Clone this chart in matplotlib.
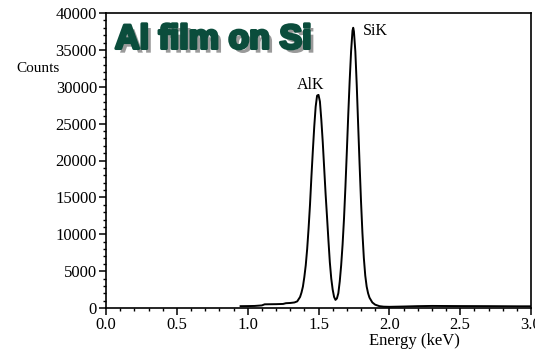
import matplotlib
matplotlib.use("Agg")
import matplotlib.pyplot as plt
import matplotlib.patheffects as pe
from matplotlib.ticker import MultipleLocator

energy_kev = [0.95, 1.00, 1.05, 1.10, 1.12, 1.20, 1.25, 1.27, 1.30, 1.33, 1.35, 1.37, 1.38,
              1.39, 1.40, 1.41, 1.42, 1.43, 1.44, 1.45, 1.46, 1.47, 1.48, 1.49, 1.50,
              1.51, 1.52, 1.53, 1.54, 1.55, 1.56, 1.57, 1.58, 1.59, 1.60, 1.61, 1.62,
              1.63, 1.64, 1.65, 1.66, 1.67, 1.68, 1.69, 1.70, 1.71, 1.72, 1.73, 1.74,
              1.745, 1.75, 1.76, 1.77, 1.78, 1.79, 1.80, 1.81, 1.82, 1.83, 1.84, 1.85,
              1.86, 1.88, 1.90, 1.93, 1.96, 2.00, 2.10, 2.20, 2.30, 2.50, 2.70, 2.90, 3.00]
counts = [250, 260, 280, 350, 500, 520, 550, 650, 680, 750, 900, 1500, 2100,
          2900, 4200, 5800, 8000, 10800, 14000, 17800, 21300, 24600, 27300, 28800, 28900,
          28000, 25500, 22500, 19000, 15500, 12400, 9200, 6200, 4000, 2500, 1500, 1100,
          1300, 2000, 3600, 5800, 8600, 12100, 16400, 21200, 26200, 30800, 34800, 37600,
          38000, 37500, 34800, 30200, 24800, 19500, 14500, 10200, 6800, 4400, 2900, 2000,
          1400, 750, 450, 250, 180, 160, 200, 250, 280, 260, 250, 230, 230]

peak_labels = ["AlK", "SiK"]
peak_label_pos = [(1.447, 30300), (1.815, 37600)]
title_text = "Al film on Si"

serif = ["Liberation Serif", "DejaVu Serif"]

fig = plt.figure(figsize=(5.35, 3.56), dpi=100)
ax = fig.add_axes([106/535, 1 - 308/356, 425/535, 295/356])

ax.plot(energy_kev, counts, color="black", lw=1.4)
ax.set_xlim(0, 3.0)
ax.set_ylim(0, 40000)

ax.xaxis.set_major_locator(MultipleLocator(0.5))
ax.xaxis.set_minor_locator(MultipleLocator(0.1))
ax.yaxis.set_major_locator(MultipleLocator(5000))
ax.yaxis.set_minor_locator(MultipleLocator(1000))
ax.xaxis.set_major_formatter(matplotlib.ticker.FormatStrFormatter("%.1f"))
ax.tick_params(which="major", length=5, width=1.1, direction="out", pad=1.5)
ax.tick_params(which="minor", length=2.5, width=1.0, direction="out")
for lbl in ax.get_xticklabels() + ax.get_yticklabels():
    lbl.set_fontfamily(serif)
    lbl.set_fontsize(12)
for s in ax.spines.values():
    s.set_linewidth(1.2)

ax.set_xlabel("Energy (keV)", fontfamily=serif, fontsize=12, labelpad=-2)
ax.xaxis.set_label_coords(0.725, -0.085)

fig.text(38/535, 1 - 68/356, "Counts", fontfamily=serif, fontsize=11,
         ha="center", va="center")

for txt, (x, y) in zip(peak_labels, peak_label_pos):
    ax.text(x, y, txt, fontfamily=serif, fontsize=11.5, ha="center" if txt == "AlK" else "left",
            va="center")

t = fig.text(115/535, 1 - 40/356, title_text, fontfamily=["Liberation Sans", "DejaVu Sans"],
             fontweight="bold", fontsize=24.5, color="#0b4d3c", ha="left", va="center",
             path_effects=[pe.withSimplePatchShadow(offset=(3, -3), shadow_rgbFace="#9a9a9a", alpha=1.0),
                           pe.Stroke(linewidth=2.2, foreground="#0b4d3c"), pe.Normal()])

fig.savefig("out.png", dpi=100)
